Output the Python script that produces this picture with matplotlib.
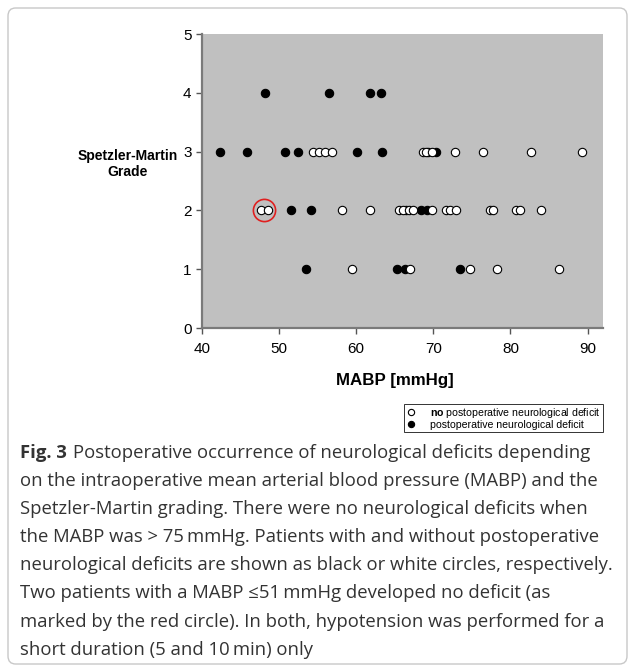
import numpy as np
import matplotlib.pyplot as plt
from matplotlib.patches import FancyBboxPatch

plt.rcParams['mathtext.fontset'] = 'custom'
plt.rcParams['mathtext.rm'] = 'Liberation Sans'
plt.rcParams['mathtext.bf'] = 'Liberation Sans:bold'

# data: MABP [mmHg] per Spetzler-Martin grade
deficit_g4 = [48.2, 56.5, 61.8, 63.2]
deficit_g3 = [42.3, 45.8, 50.8, 52.4, 60.1, 63.4, 69.3, 70.4]
deficit_g2 = [51.6, 54.1, 66.4, 68.4, 69.2]
deficit_g1 = [53.5, 65.3, 66.3, 73.5]

no_deficit_g3 = [54.4, 55.2, 56.0, 56.9, 68.6, 69.0, 69.8, 72.8, 76.5, 82.6, 89.3]
no_deficit_g2 = [47.6, 48.6, 58.2, 61.8, 65.6, 66.0, 66.8, 67.4, 69.8, 71.6,
                 72.2, 72.9, 77.3, 77.7, 80.7, 81.3, 83.9]
no_deficit_g1 = [59.5, 67.0, 74.8, 78.2, 86.3]

red_circle = (48.1, 2)

xticks = [40, 50, 60, 70, 80, 90]
yticks = [0, 1, 2, 3, 4, 5]

caption = [
    "Postoperative occurrence of neurological deficits depending",
    "on the intraoperative mean arterial blood pressure (MABP) and the",
    "Spetzler-Martin grading. There were no neurological deficits when",
    "the MABP was > 75\u2009mmHg. Patients with and without postoperative",
    "neurological deficits are shown as black or white circles, respectively.",
    "Two patients with a MABP \u226451\u2009mmHg developed no deficit (as",
    "marked by the red circle). In both, hypotension was performed for a",
    "short duration (5 and 10\u2009min) only",
]

W, H = 635, 672
fig = plt.figure(figsize=(W / 100, H / 100), dpi=100)

# outer rounded frame
frame = FancyBboxPatch((8 / W, 8 / H), 619 / W, 656 / H,
                       boxstyle="round,pad=0,rounding_size=0.012",
                       transform=fig.transFigure, facecolor='none',
                       edgecolor='#c8c8c8', linewidth=1.0, zorder=-1)
fig.patches.append(frame)

ax = fig.add_axes([202 / W, 1 - 328 / H, 401 / W, 294 / H])
ax.set_facecolor('#c0c0c0')

def grades(xs, g):
    return [g] * len(xs)

dx = deficit_g4 + deficit_g3 + deficit_g2 + deficit_g1
dy = grades(deficit_g4, 4) + grades(deficit_g3, 3) + grades(deficit_g2, 2) + grades(deficit_g1, 1)
nx = no_deficit_g3 + no_deficit_g2 + no_deficit_g1
ny = grades(no_deficit_g3, 3) + grades(no_deficit_g2, 2) + grades(no_deficit_g1, 1)

ax.plot(dx, dy, 'o', color='black', markersize=6, markeredgewidth=0.8,
        label='postoperative neurological deficit', zorder=3)
ax.plot(nx, ny, 'o', markerfacecolor='white', markeredgecolor='black',
        markersize=6, markeredgewidth=0.8,
        label=r'$\bf{no}$ postoperative neurological deficit', zorder=4)
ax.plot([red_circle[0]], [red_circle[1]], 'o', markerfacecolor='none',
        markeredgecolor='#e02020', markersize=16, markeredgewidth=1.2, zorder=5)

ax.set_xlim(40, 92)
ax.set_ylim(0, 5)
ax.set_xticks(xticks)
ax.set_yticks(yticks)
for s in ['top', 'right']:
    ax.spines[s].set_visible(False)
for s in ['left', 'bottom']:
    ax.spines[s].set_color('#7a7a7a')
    ax.spines[s].set_linewidth(1.6)
ax.tick_params(direction='out', length=4, width=1, color='#555555',
               labelsize=11, labelcolor='black')
ax.tick_params(axis='x', pad=6)
for lab in ax.get_xticklabels() + ax.get_yticklabels():
    lab.set_fontfamily('Liberation Sans')

fig.text(128 / W, 1 - 164 / H, "Spetzler-Martin\nGrade", ha='center', va='center',
         fontsize=10, fontweight='bold', family='Liberation Sans', linespacing=1.2)
fig.text(395 / W, 1 - 381 / H, "MABP [mmHg]", ha='center', va='center',
         fontsize=12.2, fontweight='bold', family='Liberation Sans')

h, l = ax.get_legend_handles_labels()
leg = fig.legend(h[::-1], l[::-1], loc='upper right',
                 bbox_to_anchor=(603 / W, 1 - 404 / H),
                 prop={'family': 'Liberation Sans', 'size': 7.6},
                 frameon=True, fancybox=False, edgecolor='black',
                 handlelength=1.0, handletextpad=1.3, borderpad=0.2,
                 labelspacing=0.0, markerscale=0.75, borderaxespad=0)
leg.get_frame().set_linewidth(0.7)

# caption
cap_font = dict(family='Open Sans', fontsize=13.3, color='#333333')
y0 = 1 - 453 / H
step = 28.1 / H
t = fig.text(20 / W, y0, "Fig. 3", fontweight='bold', va='center', **cap_font)
fig.canvas.draw()
bb = t.get_window_extent()
fig.text((bb.x1 + 6) / W, y0, caption[0], va='center', **cap_font)
for i, line in enumerate(caption[1:], start=1):
    fig.text(20 / W, y0 - i * step, line, va='center', **cap_font)

fig.savefig('out.png', dpi=100)
